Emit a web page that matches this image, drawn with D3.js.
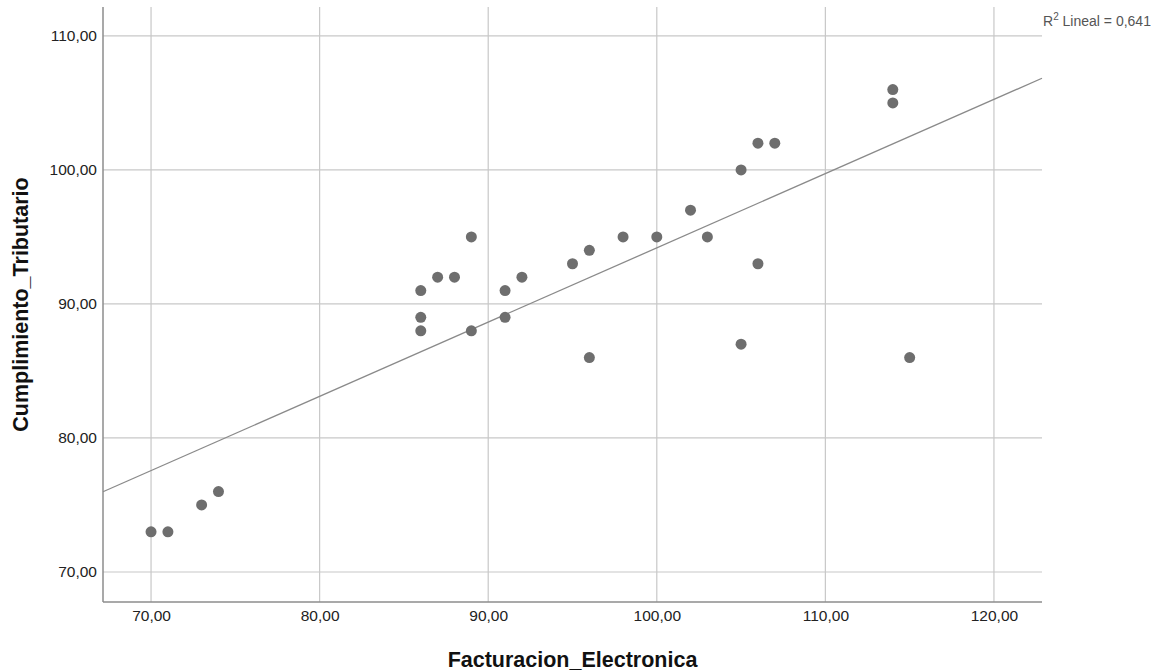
<!DOCTYPE html>
<html>
<head>
<meta charset="utf-8">
<script src="https://cdn.jsdelivr.net/npm/d3@7"></script>
<style>
  html, body { margin: 0; padding: 0; background: #fff; }
  svg { display: block; font-family: "Liberation Sans", Arial, sans-serif; }
</style>
</head>
<body>
<svg id="chart" width="1162" height="672"></svg>
<script>
// Data (Facturacion_Electronica, Cumplimiento_Tributario)
const facturacion = [70, 71, 73, 74, 86, 86, 86, 87, 88, 89, 89, 91, 91, 92, 95, 96, 96, 98, 100, 102, 103, 105, 105, 106, 107, 106, 114, 114, 115];
const cumplimiento = [73, 73, 75, 76, 91, 89, 88, 92, 92, 95, 88, 91, 89, 92, 93, 94, 86, 95, 95, 97, 95, 100, 87, 102, 102, 93, 106, 105, 86];
const xTicks = [70, 80, 90, 100, 110, 120];
const yTicks = [70, 80, 90, 100, 110];
const xTitle = "Facturacion_Electronica";
const yTitle = "Cumplimiento_Tributario";
const r2Label = "0,641";

(function () {
const svg = d3.select("#chart");
const pL = 103, pR = 1042, pT = 7, pB = 602;

const x = d3.scaleLinear().domain([67.15, 122.85]).range([pL, pR]);
const y = d3.scaleLinear().domain([67.76, 112.16]).range([pB, pT]);

const fmt = v => d3.format(".2f")(v).replace(".", ",");

// gridlines
svg.append("g").selectAll("line").data(yTicks).join("line")
  .attr("x1", pL).attr("x2", pR)
  .attr("y1", d => y(d)).attr("y2", d => y(d))
  .attr("stroke", "#c8c8c8").attr("stroke-width", 1.2);
svg.append("g").selectAll("line").data(xTicks).join("line")
  .attr("y1", pT).attr("y2", pB)
  .attr("x1", d => x(d)).attr("x2", d => x(d))
  .attr("stroke", "#c8c8c8").attr("stroke-width", 1.2);

// axes
const xAxis = d3.axisBottom(x).tickValues(xTicks).tickFormat(fmt).tickSize(0).tickPadding(8);
const yAxis = d3.axisLeft(y).tickValues(yTicks).tickFormat(fmt).tickSize(0).tickPadding(6);

const gx = svg.append("g").attr("transform", `translate(0,${pB})`).call(xAxis);
gx.select(".domain").attr("d", `M${pL},0H${pR}`).attr("stroke", "#8c8c8c").attr("stroke-width", 1.5);
gx.selectAll("text").attr("font-size", 15.5).attr("fill", "#222").attr("font-family", "Liberation Sans, Arial, sans-serif");

const gy = svg.append("g").attr("transform", `translate(${pL},0)`).call(yAxis);
gy.select(".domain").attr("d", `M0,${pT}V${pB}`).attr("stroke", "#8c8c8c").attr("stroke-width", 1.5);
gy.selectAll("text").attr("font-size", 15.5).attr("fill", "#222").attr("font-family", "Liberation Sans, Arial, sans-serif");

// regression line (least squares from data)
const n = facturacion.length;
const mx = d3.mean(facturacion), my = d3.mean(cumplimiento);
let sxy = 0, sxx = 0;
for (let i = 0; i < n; i++) {
  sxy += (facturacion[i] - mx) * (cumplimiento[i] - my);
  sxx += (facturacion[i] - mx) ** 2;
}
const slope = sxy / sxx, intercept = my - slope * mx;
const [x0, x1] = x.domain();
svg.append("line")
  .attr("x1", x(x0)).attr("y1", y(intercept + slope * x0))
  .attr("x2", x(x1)).attr("y2", y(intercept + slope * x1))
  .attr("stroke", "#8a8a8a").attr("stroke-width", 1.3);

// points
svg.append("g").selectAll("circle").data(facturacion.map((d, i) => [d, cumplimiento[i]])).join("circle")
  .attr("cx", d => x(d[0])).attr("cy", d => y(d[1]))
  .attr("r", 5.5).attr("fill", "#6e6e6e");

// R2 label
const r2 = svg.append("text").attr("x", 1043).attr("y", 26)
  .attr("font-size", 14).attr("fill", "#555");
r2.append("tspan").text("R");
r2.append("tspan").attr("dy", -6).attr("font-size", 10).text("2");
r2.append("tspan").attr("dy", 6).text(" Lineal = " + r2Label);

// axis titles
svg.append("text").attr("x", (pL + pR) / 2).attr("y", 667)
  .attr("text-anchor", "middle").attr("font-size", 21.5).attr("font-weight", "bold").attr("fill", "#111")
  .text(xTitle);
svg.append("text").attr("transform", `translate(28,${(pT + pB) / 2}) rotate(-90)`)
  .attr("text-anchor", "middle").attr("font-size", 21.5).attr("font-weight", "bold").attr("fill", "#111")
  .text(yTitle);
})();
</script>
</body>
</html>
